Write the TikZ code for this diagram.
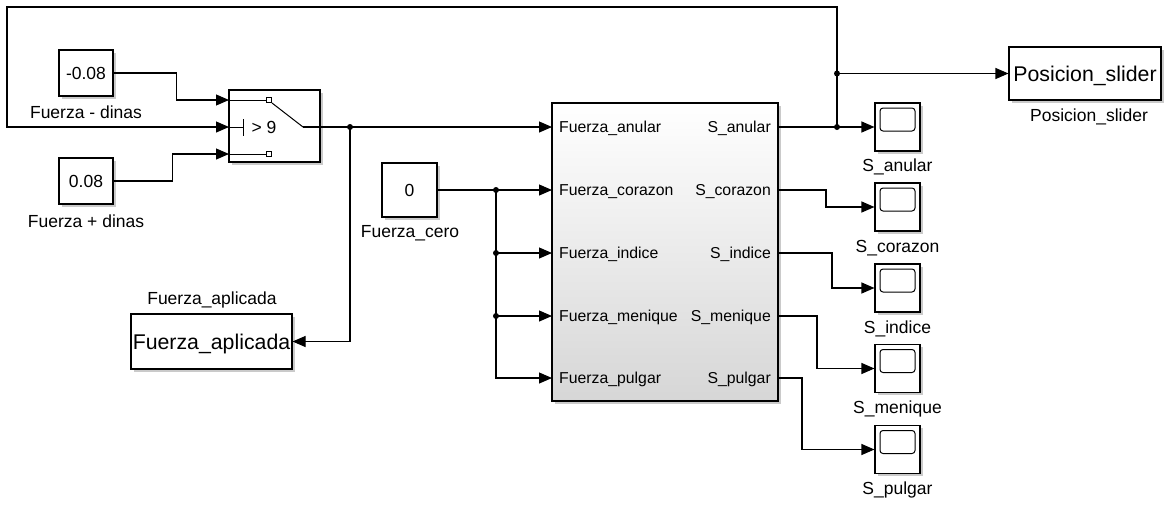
\documentclass[tikz,border=0pt]{standalone}
\usepackage{fontspec}
\setmainfont{Liberation Sans}
\usetikzlibrary{arrows.meta,shadows,calc}
\begin{document}
\begin{tikzpicture}[x=1pt,y=-1pt,
  wire/.style={line width=1.1pt},
  arr/.style={wire,-{Triangle[length=13pt,width=11pt]}},
  blk/.style={draw,line width=1.1pt,fill=white,inner sep=0pt,
    drop shadow={shadow xshift=2.5pt,shadow yshift=-2.5pt,opacity=0.35,fill=black!60}},
  lbl/.style={font=\fontsize{17.5}{20}\selectfont,inner sep=0pt},
  blktxt/.style={font=\fontsize{17.5}{20}\selectfont,text height=12.5pt,text depth=0pt},
  bigtxt/.style={font=\fontsize{21.3}{24}\selectfont,text height=15.2pt,text depth=0pt},
  port/.style={font=\fontsize{15.8}{18}\selectfont,inner sep=0pt},
  scopeblk/.style={blk,minimum width=45pt,minimum height=48pt,
    path picture={\draw[line width=1pt,rounded corners=3pt]
      ([shift={(5pt,-5pt)}]path picture bounding box.north west) rectangle
      ([shift={(-5pt,-28pt)}]path picture bounding box.north east);}}
]
\useasboundingbox (0,0) rectangle (1167,504);

% constants
\node[blk,blktxt,minimum width=54pt,minimum height=46pt] (cneg) at (86,73) {-0.08};
\node[lbl,anchor=base] (lcneg) at (86,118.5) {Fuerza - dinas};
\node[blk,blktxt,minimum width=54pt,minimum height=46pt] (cpos) at (86,181) {0.08};
\node[lbl,anchor=base] (lcpos) at (86,227) {Fuerza + dinas};
\node[blk,blktxt,minimum width=55pt,minimum height=54pt] (c0) at (409.5,190) {0};
\node[lbl,anchor=base] (lc0) at (410,237) {Fuerza\_cero};

% switch
\node[blk,minimum width=91pt,minimum height=72pt] (sw) at (274.5,126) {};
\coordinate (swi1) at (229,100);
\coordinate (swi2) at (229,127);
\coordinate (swi3) at (229,154);
\coordinate (swo) at (303,127);
\draw[line width=1pt] (swi1) -- (266.5,100);
\draw[line width=0.9pt] (266.5,97.5) rectangle (271.5,102.5);
\draw[line width=1pt] (swi3) -- (266.5,154);
\draw[line width=0.9pt] (266.5,151.5) rectangle (271.5,156.5);
\draw[line width=1pt] (272,103) -- (swo);
\draw[line width=1pt] (swi2) -- (243,127);
\draw[line width=1pt] (243,119) -- (243,136);
\node[lbl,anchor=base] (thr) at (264,133.3) {> 9};

% Fuerza_aplicada
\node[blk,bigtxt,minimum width=161pt,minimum height=55pt] (fap) at (211.5,341.5) {Fuerza\_aplicada};
\node[lbl,anchor=base] (lfap) at (212,304) {Fuerza\_aplicada};

% subsystem
\node[blk,top color=white,bottom color=black!16,minimum width=226pt,minimum height=298pt] (sub) at (665,252) {};
\coordinate (si1) at (552,127);
\coordinate (si2) at (552,190);
\coordinate (si3) at (552,253);
\coordinate (si4) at (552,316);
\coordinate (si5) at (552,378);
\coordinate (so1) at (778,127);
\coordinate (so2) at (778,190);
\coordinate (so3) at (778,253);
\coordinate (so4) at (778,316);
\coordinate (so5) at (778,378);
\node[port,anchor=base west] (pi1) at (559,132.6) {Fuerza\_anular};
\node[port,anchor=base west] (pi2) at (559,195.6) {Fuerza\_corazon};
\node[port,anchor=base west] (pi3) at (559,258.6) {Fuerza\_indice};
\node[port,anchor=base west] (pi4) at (559,321.6) {Fuerza\_menique};
\node[port,anchor=base west] (pi5) at (559,383.6) {Fuerza\_pulgar};
\node[port,anchor=base east] (po1) at (771,132.6) {S\_anular};
\node[port,anchor=base east] (po2) at (771,195.6) {S\_corazon};
\node[port,anchor=base east] (po3) at (771,258.6) {S\_indice};
\node[port,anchor=base east] (po4) at (771,321.6) {S\_menique};
\node[port,anchor=base east] (po5) at (771,383.6) {S\_pulgar};

% Posicion_slider
\node[blk,bigtxt,minimum width=152pt,minimum height=53pt] (ps) at (1085,73.5) {Posicion\_slider};
\node[lbl,anchor=base] (lps) at (1089,121) {Posicion\_slider};

% scopes
\node[scopeblk] (sa) at (897.5,127) {};
\node[lbl,anchor=base] (lsa) at (897.5,171) {S\_anular};
\node[scopeblk] (sc) at (897.5,207) {};
\node[lbl,anchor=base] (lsc) at (897.5,252) {S\_corazon};
\node[scopeblk] (si) at (897.5,288) {};
\node[lbl,anchor=base] (lsi) at (897.5,333) {S\_indice};
\node[scopeblk] (sm) at (897.5,368.5) {};
\node[lbl,anchor=base] (lsm) at (897.5,413.5) {S\_menique};
\node[scopeblk] (sp) at (897.5,449.5) {};
\node[lbl,anchor=base] (lsp) at (897.5,494) {S\_pulgar};

% junctions
\coordinate (jsw) at (350,127);
\coordinate (j0a) at (496,190);
\coordinate (j0b) at (496,253);
\coordinate (j0c) at (496,316);
\coordinate (ja) at (837,127);
\coordinate (jb) at (837,73.5);
\coordinate (tl) at (7,7);

% wires
\draw[arr] (cneg.east) -- ++(63,0) |- (swi1);
\draw[arr] (cpos.east) -- ++(59,0) |- (swi3);
\draw[wire] (swo) -- (jsw);
\draw[arr] (jsw) -- (si1);
\draw[arr] (jsw) |- (fap.east);
\draw[arr] (c0.east) -- (si2);
\draw[wire] (j0a) -- (j0c);
\draw[arr] (j0b) -- (si3);
\draw[arr] (j0c) -- (si4);
\draw[arr] (j0c) |- (si5);
\draw[wire] (so1) -- (ja);
\draw[arr] (ja) -- (sa.west);
\draw[arr] (ja) |- (tl) |- (swi2);
\draw[arr] (jb) -- (ps.west);
\draw[arr] (so2) -- ++(48,0) |- (sc.west);
\draw[arr] (so3) -- ++(54,0) |- (si.west);
\draw[arr] (so4) -- ++(39,0) |- (sm.west);
\draw[arr] (so5) -- ++(24,0) |- (sp.west);

\foreach \p in {jsw,j0a,j0b,j0c,ja,jb} \fill (\p) circle (3pt);
\end{tikzpicture}
\end{document}
